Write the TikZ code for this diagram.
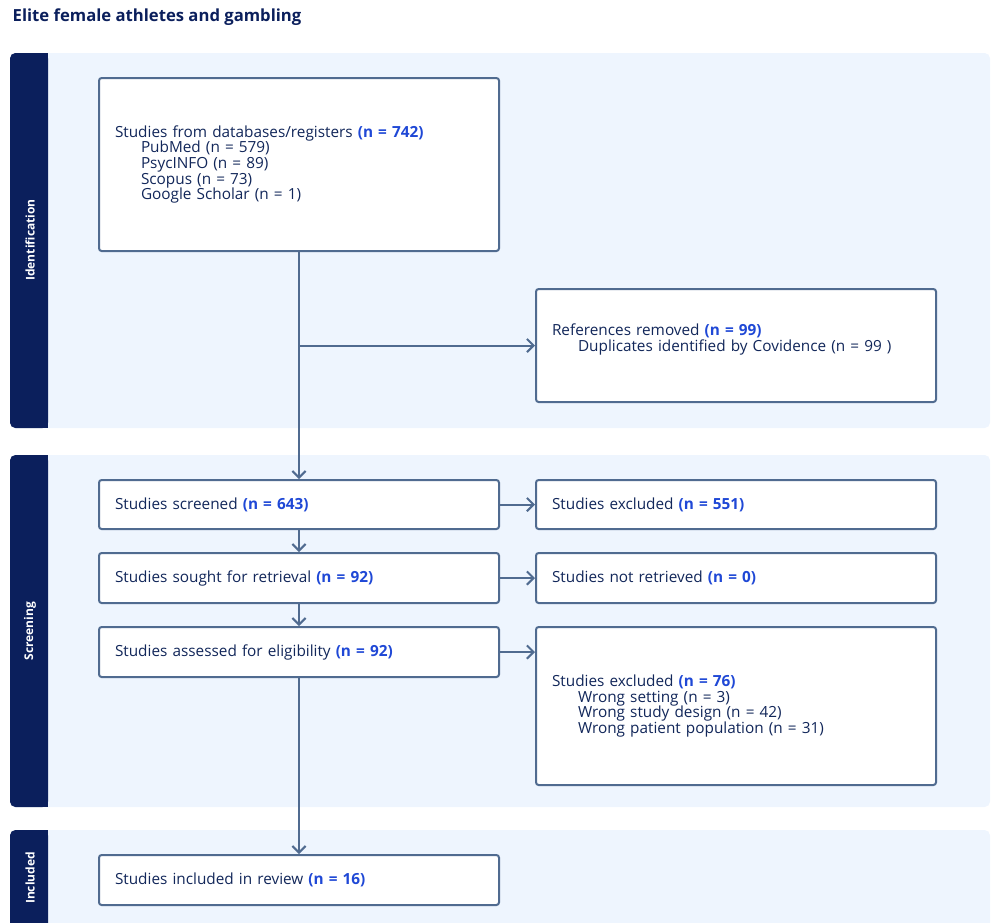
\documentclass[tikz,border=0pt]{standalone}
\usepackage{fontspec}
\setmainfont{Open Sans}
\usetikzlibrary{arrows.meta}
\definecolor{navy}{HTML}{0B1F5C}
\definecolor{panel}{HTML}{EEF5FE}
\definecolor{edge}{HTML}{506B90}
\definecolor{nblue}{HTML}{1F48D6}
\definecolor{txt}{HTML}{12275A}
\newcommand{\nval}[1]{\textcolor{nblue}{\bfseries #1}}
\newcommand{\subline}{\\\hspace*{19.5pt}}

\begin{document}
\begin{tikzpicture}[x=0.75pt,y=-0.75pt,
  font=\fontsize{11.5}{11.8}\selectfont, text=txt,
  box/.style={draw=edge,line width=1.5pt,rounded corners=2pt,fill=white,
    anchor=north west,align=left,inner xsep=12pt,text width=276pt},
  conn/.style={draw=edge,line width=1.5pt,-{Straight Barb[length=5pt,width=10pt]}},
  side/.style={rotate=90,text=white,font=\fontsize{9}{11}\selectfont\bfseries}]
\def\u{0.75pt}
\useasboundingbox (0,0) rectangle (995,922);
\node[anchor=west,font=\fontsize{12.5}{14}\selectfont\bfseries,text=navy] (title) at (8,17) {Elite female athletes and gambling};

% panels
\foreach \top/\bot in {53/428, 455/807, 830/940} {
  \fill[panel,rounded corners=4pt] (10,\top) rectangle (990,\bot);
  \fill[navy,rounded corners=4pt] (10,\top) rectangle (48,\bot);
  \fill[navy] (30,\top) rectangle (48,\bot);
}
\node[side] (lid) at (30,240) {Identification};
\node[side] (lsc) at (30,631) {Screening};
\node[side] (lin) at (30,878) {Included};

\node[box,minimum height=173*\u] (src) at (98,77) {Studies from databases/registers \nval{(n = 742)}\subline PubMed (n = 579)\subline PsycINFO (n = 89)\subline Scopus (n = 73)\subline Google Scholar (n = 1)};
\node[box,minimum height=113*\u] (rem) at (535,288) {References removed \nval{(n = 99)}\subline Duplicates identified by Covidence (n = 99 )\\\mbox{}};
\node[box,minimum height=49*\u] (scr) at (98,479) {Studies screened \nval{(n = 643)}};
\node[box,minimum height=49*\u] (exc) at (535,479) {Studies excluded \nval{(n = 551)}};
\node[box,minimum height=50*\u] (ret) at (98,552) {Studies sought for retrieval \nval{(n = 92)}};
\node[box,minimum height=50*\u] (nret) at (535,552) {Studies not retrieved \nval{(n = 0)}};
\node[box,minimum height=50*\u] (elig) at (98,626) {Studies assessed for eligibility \nval{(n = 92)}};
\node[box,minimum height=158*\u] (exc2) at (535,626) {Studies excluded \nval{(n = 76)}\subline Wrong setting (n = 3)\subline Wrong study design (n = 42)\subline Wrong patient population (n = 31)};
\node[box,minimum height=50*\u] (inc) at (98,854) {Studies included in review \nval{(n = 16)}};

\coordinate (split) at (src.south |- rem.west);
\draw[conn] (src) -- (scr);
\draw[conn] (split) -- (rem.west);
\draw[conn] (scr) -- (exc);
\draw[conn] (scr) -- (ret);
\draw[conn] (ret) -- (nret);
\draw[conn] (ret) -- (elig);
\draw[conn] (elig) -- (exc2.west |- elig.east);
\draw[conn] (elig) -- (inc);
\end{tikzpicture}
\end{document}
